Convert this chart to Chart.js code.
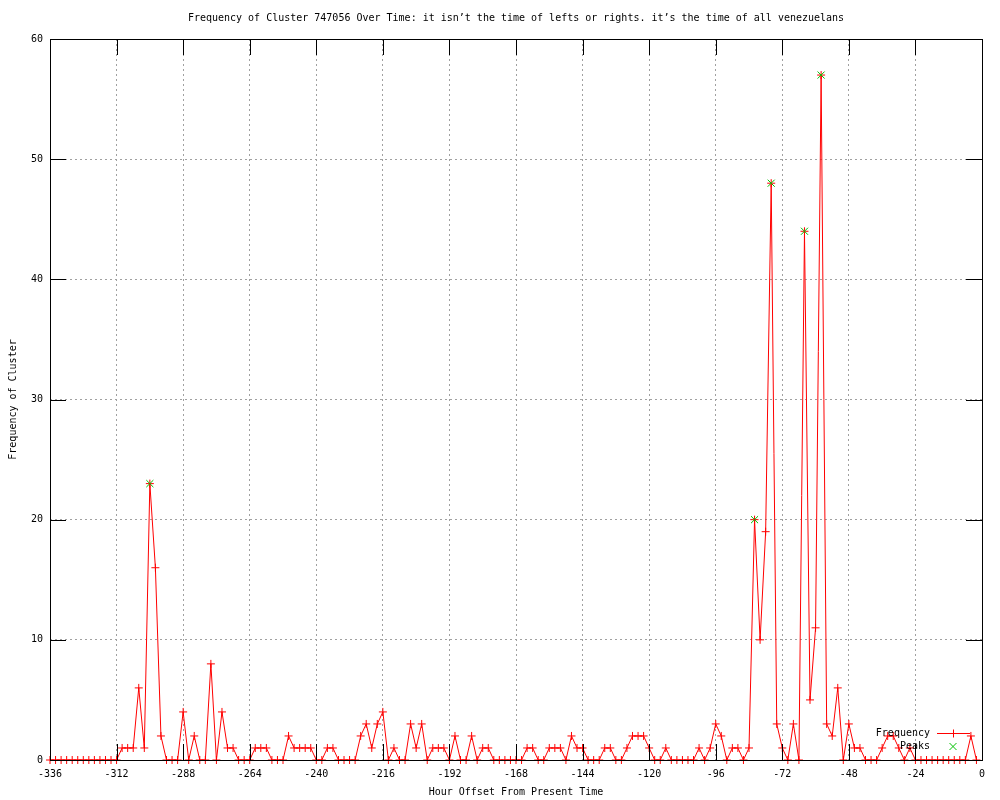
<!DOCTYPE html>
<html>
<head>
<meta charset="utf-8">
<script src="https://cdn.jsdelivr.net/npm/chart.js@4.4.1/dist/chart.umd.min.js"></script>
<style>
  html, body { margin: 0; padding: 0; background: #fff; }
  #chart { display: block; }
</style>
</head>
<body>
<canvas id="chart" width="1000" height="800"></canvas>
<script>
// hours run from -336 in steps of 2
const startHour = -336;
const stepHours = 2;
const frequency = [
  0, 0, 0, 0, 0, 0, 0, 0, 0, 0, 0, 0,         // -336 .. -314
  0, 1, 1, 1, 6, 1, 23, 16, 2, 0, 0, 0,       // -312 .. -290
  4, 0, 2, 0, 0, 8, 0, 4, 1, 1, 0, 0,         // -288 .. -266
  0, 1, 1, 1, 0, 0, 0, 2, 1, 1, 1, 1,         // -264 .. -242
  0, 0, 1, 1, 0, 0, 0, 0, 2, 3, 1, 3,         // -240 .. -218
  4, 0, 1, 0, 0, 3, 1, 3, 0, 1, 1, 1,         // -216 .. -194
  0, 2, 0, 0, 2, 0, 1, 1, 0, 0, 0, 0,         // -192 .. -170
  0, 0, 1, 1, 0, 0, 1, 1, 1, 0, 2, 1,         // -168 .. -146
  1, 0, 0, 0, 1, 1, 0, 0, 1, 2, 2, 2,         // -144 .. -122
  1, 0, 0, 1, 0, 0, 0, 0, 0, 1, 0, 1,         // -120 .. -98
  3, 2, 0, 1, 1, 0, 1, 20, 10, 19, 48, 3,     // -96 .. -74
  1, 0, 3, 0, 44, 5, 11, 57, 3, 2, 6, 0,      // -72 .. -50
  3, 1, 1, 0, 0, 0, 1, 2, 2, 1, 0, 1,         // -48 .. -26
  0, 0, 0, 0, 0, 0, 0, 0, 0, 0, 2, 0          // -24 .. -2
];
const peakHours = [-300, -82, -76, -64, -58];
const peakValues = [23, 20, 48, 44, 57];

const titleText = 'Frequency of Cluster 747056 Over Time: it isn\u2019t the time of lefts or rights. it\u2019s the time of all venezuelans';
const xTitle = 'Hour Offset From Present Time';
const yTitle = 'Frequency of Cluster';

const FONT = 'DejaVu Sans Mono';
const RED = '#ff0000';
const GREEN = '#00c000';

const freqPoints = frequency.map((v, i) => ({ x: startHour + i * stepHours, y: v }));
const peakPoints = peakHours.map((h, i) => ({ x: h, y: peakValues[i] }));

// gnuplot style frame: box border, inward ticks on all sides, key bottom right
const framePlugin = {
  id: 'frame',
  afterDatasetsDraw(chart) {
    const { ctx, chartArea: a, scales } = chart;
    const tick = 16;
    ctx.save();
    ctx.strokeStyle = '#000';
    ctx.lineWidth = 1;
    ctx.beginPath();
    scales.x.ticks.forEach(t => {
      const px = Math.round(scales.x.getPixelForValue(t.value)) + 0.5;
      ctx.moveTo(px, a.bottom); ctx.lineTo(px, a.bottom - tick);
      ctx.moveTo(px, a.top); ctx.lineTo(px, a.top + tick);
    });
    scales.y.ticks.forEach(t => {
      const py = Math.round(scales.y.getPixelForValue(t.value)) + 0.5;
      ctx.moveTo(a.left, py); ctx.lineTo(a.left + tick, py);
      ctx.moveTo(a.right, py); ctx.lineTo(a.right - tick, py);
    });
    ctx.stroke();
    ctx.strokeRect(Math.round(a.left) + 0.5, Math.round(a.top) + 0.5,
      Math.round(a.right - a.left), Math.round(a.bottom - a.top));
    ctx.restore();
  },
  afterDraw(chart) {
    const { ctx, chartArea: a } = chart;
    const ds = chart.data.datasets;
    const textRight = a.right - 52;
    const sampleL = a.right - 45, sampleR = a.right - 12, sampleMid = a.right - 29;
    ctx.save();
    ctx.font = '10px "' + FONT + '"';
    ctx.textAlign = 'right';
    ctx.textBaseline = 'middle';
    ds.forEach((d, i) => {
      const y = Math.round(a.bottom - 27 + i * 13) + 0.5;
      ctx.fillStyle = '#000';
      ctx.fillText(d.label, textRight, y);
      ctx.lineWidth = 1;
      ctx.beginPath();
      if (i === 0) {
        ctx.strokeStyle = RED;
        ctx.moveTo(sampleL, y); ctx.lineTo(sampleR, y);
        ctx.moveTo(sampleMid + 0.5, y - 4); ctx.lineTo(sampleMid + 0.5, y + 4);
      } else {
        ctx.strokeStyle = GREEN;
        ctx.moveTo(sampleMid - 3.5, y - 3.5); ctx.lineTo(sampleMid + 3.5, y + 3.5);
        ctx.moveTo(sampleMid + 3.5, y - 3.5); ctx.lineTo(sampleMid - 3.5, y + 3.5);
      }
      ctx.stroke();
    });
    ctx.restore();
  }
};

new Chart(document.getElementById('chart'), {
  type: 'line',
  data: {
    datasets: [
      {
        label: 'Frequency',
        data: freqPoints,
        borderColor: RED,
        borderWidth: 1,
        pointStyle: 'cross',
        pointRadius: 4,
        pointBorderColor: RED,
        pointBorderWidth: 1,
        tension: 0,
        fill: false,
        clip: false,
        order: 1
      },
      {
        label: 'Peaks',
        data: peakPoints,
        showLine: false,
        pointStyle: 'crossRot',
        pointRadius: 5,
        pointBorderColor: GREEN,
        pointBorderWidth: 1,
        clip: false,
        order: 0
      }
    ]
  },
  plugins: [framePlugin],
  options: {
    responsive: false,
    animation: false,
    devicePixelRatio: 1,
    events: [],
    layout: { padding: { left: 0, right: 18, top: 0, bottom: 0 } },
    font: { family: FONT, size: 10 },
    plugins: {
      legend: { display: false },
      tooltip: { enabled: false },
      title: {
        display: true,
        text: titleText,
        color: '#000',
        fullSize: false,
        font: { family: FONT, size: 10, weight: 'normal' },
        padding: { top: 12, bottom: 15 }
      }
    },
    scales: {
      x: {
        type: 'linear',
        min: -336,
        max: 0,
        afterFit(scale) { scale.height = 40; },
        border: { display: false, dash: [2, 3] },
        grid: {
          color: '#a0a0a0',
          lineWidth: 1,
          drawTicks: false
        },
        ticks: {
          stepSize: 24,
          autoSkip: false,
          maxRotation: 0,
          padding: 8,
          color: '#000',
          font: { family: FONT, size: 10 },
          callback: v => String(v)
        },
        title: {
          display: true,
          text: xTitle,
          color: '#000',
          font: { family: FONT, size: 10 },
          padding: { top: 0, bottom: 2 }
        }
      },
      y: {
        min: 0,
        max: 60,
        afterFit(scale) { scale.width = 50; },
        border: { display: false, dash: [2, 3] },
        grid: {
          color: '#a0a0a0',
          lineWidth: 1,
          drawTicks: false
        },
        ticks: {
          stepSize: 10,
          padding: 7,
          color: '#000',
          font: { family: FONT, size: 10 },
          callback: v => String(v)
        },
        title: {
          display: true,
          text: yTitle,
          color: '#000',
          font: { family: FONT, size: 10 },
          padding: { top: 7, bottom: 0 }
        }
      }
    }
  }
});
</script>
</body>
</html>
